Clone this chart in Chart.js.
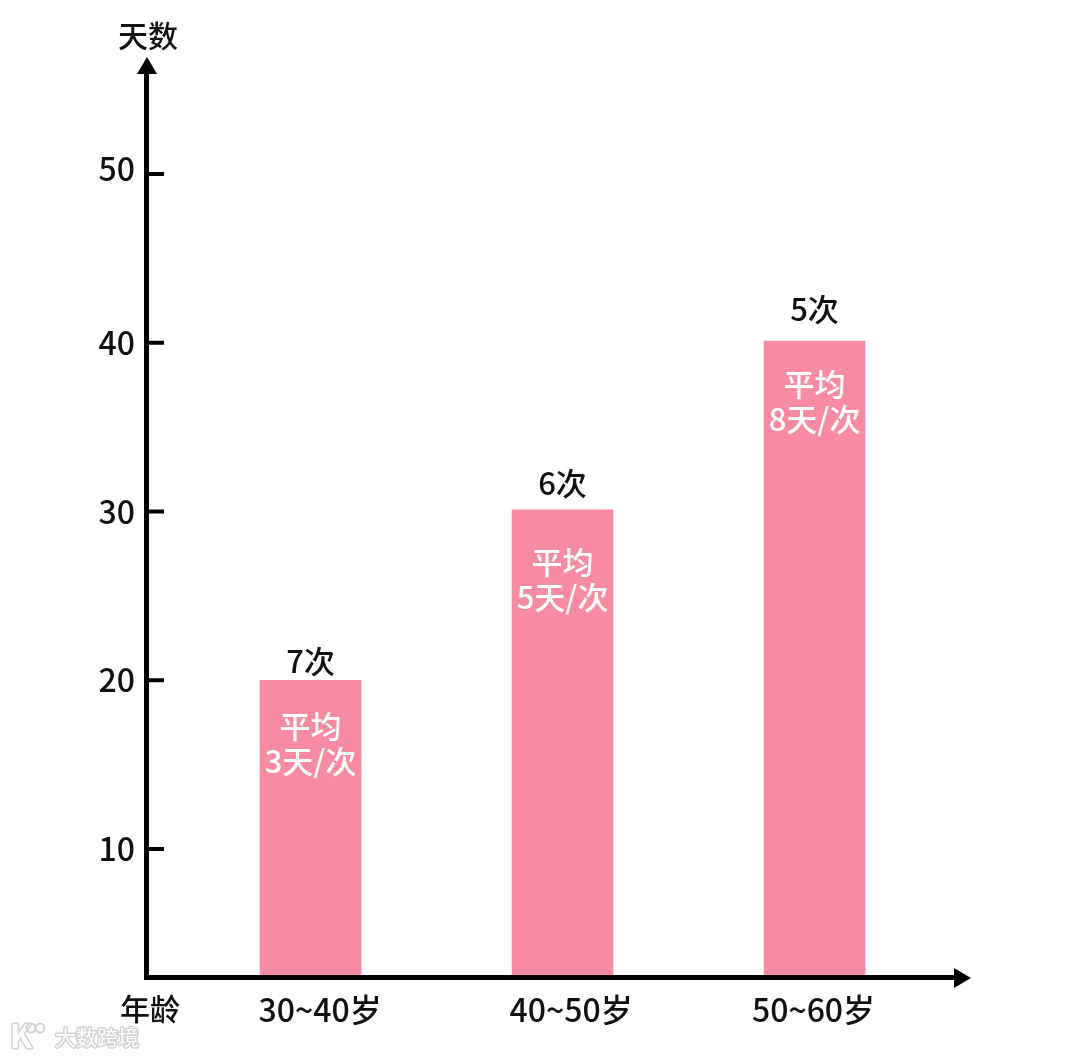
<!DOCTYPE html>
<html lang="zh">
<head>
<meta charset="utf-8">
<title>天数</title>
<script src="https://cdn.jsdelivr.net/npm/chart.js@4"></script>
<style>
    html, body { margin: 0; padding: 0; background: #fff; }
    canvas { display: block; }
</style>
</head>
<body>
<canvas id="grafico" width="1080" height="1057"></canvas>
<script>
// Dados
const categorias = ['30~40岁', '40~50岁', '50~60岁'];
const dias = [20, 30.1, 40.1];
const vezes = ['7次', '6次', '5次'];
const media = ['3天/次', '5天/次', '8天/次'];
const ticksY = [10, 20, 30, 40, 50];
const tituloY = '天数';
const tituloX = '年龄';
const rotuloMedia = '平均';
const marcaDagua = '大数跨境';

const FONTE = '"Noto Sans CJK SC", "Noto Sans", sans-serif';

// Deslocamento dos textos em relação ao topo de cada barra
const offsetVezes = [19, 27, 32];
const offsetMedia = [46, 52, 43];

// Na imagem os rótulos não ficam exatamente alinhados com as barras e as marcas
const posicaoRotulosX = [1.038, 2.034, 2.996];
const posicaoRotulosY = [10, 20, 30, 40, 50.3];

// Eixos com seta, marcas internas e textos
const desenhoExtra = {
    id: 'desenhoExtra',
    afterDraw(chart) {
        const { ctx, chartArea: area, scales } = chart;
        const barras = chart.getDatasetMeta(0).data;
        ctx.save();
        ctx.textAlign = 'center';
        ctx.textBaseline = 'middle';

        barras.forEach((barra, i) => {
            ctx.fillStyle = '#111';
            ctx.font = '500 31px ' + FONTE;
            ctx.fillText(vezes[i], barra.x, barra.y - offsetVezes[i]);
            ctx.fillStyle = '#fff';
            ctx.fillText(rotuloMedia, barra.x, barra.y + offsetMedia[i]);
            ctx.fillText(media[i], barra.x, barra.y + offsetMedia[i] + 35);
        });

        ctx.fillStyle = '#000';
        ctx.fillRect(area.left - 3, area.top + 12, 5, area.height - 12);
        ctx.fillRect(area.left - 3, area.bottom - 3, area.width - 12, 5);
        ctx.beginPath();
        ctx.moveTo(area.left, area.top - 1);
        ctx.lineTo(area.left + 10, area.top + 16);
        ctx.lineTo(area.left - 10, area.top + 16);
        ctx.closePath();
        ctx.fill();
        ctx.beginPath();
        ctx.moveTo(area.right + 1, area.bottom);
        ctx.lineTo(area.right - 16, area.bottom - 10);
        ctx.lineTo(area.right - 16, area.bottom + 10);
        ctx.closePath();
        ctx.fill();

        ticksY.forEach(v => {
            ctx.fillRect(area.left, scales.y.getPixelForValue(v) - 2, 17, 4);
        });

        ctx.fillStyle = '#111';
        ctx.font = '500 30px ' + FONTE;
        ctx.fillText(tituloY, 148, 36);
        ctx.fillText(tituloX, 150, 1009);

        // Marca d'água
        ctx.lineJoin = 'round';
        ctx.textAlign = 'left';
        ctx.font = '21px ' + FONTE;
        ctx.lineWidth = 3;
        ctx.strokeStyle = '#d2d2d2';
        ctx.strokeText(marcaDagua, 55, 1037);
        ctx.fillStyle = '#fff';
        ctx.fillText(marcaDagua, 55, 1037);
        ctx.font = 'bold 32px ' + FONTE;
        ctx.strokeText('K', 10, 1036);
        ctx.fillText('K', 10, 1036);
        ctx.lineWidth = 2;
        [[31, 1028], [40, 1028]].forEach(([cx, cy]) => {
            ctx.beginPath();
            ctx.arc(cx, cy, 4.5, 0, Math.PI * 2);
            ctx.stroke();
        });
        ctx.restore();
    }
};

new Chart(document.getElementById('grafico').getContext('2d'), {
    type: 'bar',
    data: {
        datasets: [{
            data: dias.map((d, i) => ({ x: i + 1, y: d })),
            backgroundColor: '#f78ba2',
            borderWidth: 0,
            barThickness: 101
        }]
    },
    options: {
        responsive: false,
        animation: false,
        layout: { padding: { top: 58, right: 110 } },
        plugins: { legend: { display: false }, tooltip: { enabled: false } },
        scales: {
            x: {
                type: 'linear',
                offset: false,
                min: 0.351,
                max: 3.617,
                grid: { display: false },
                border: { display: false },
                afterBuildTicks: scale => { scale.ticks = posicaoRotulosX.map(v => ({ value: v })); },
                afterFit: scale => { scale.height = 79; },
                ticks: {
                    autoSkip: false,
                    maxRotation: 0,
                    padding: 5,
                    color: '#111',
                    font: { family: FONTE, size: 32, weight: '500' },
                    callback: (value, index) => categorias[index]
                }
            },
            y: {
                min: 2.356,
                max: 56.874,
                grid: { display: false },
                border: { display: false },
                afterBuildTicks: scale => { scale.ticks = posicaoRotulosY.map(v => ({ value: v })); },
                afterFit: scale => { scale.width = 147; },
                ticks: {
                    autoSkip: false,
                    padding: 4,
                    color: '#111',
                    font: { family: FONTE, size: 32, weight: '500' },
                    callback: (value, index) => ticksY[index]
                }
            }
        }
    },
    plugins: [desenhoExtra]
});
</script>
</body>
</html>
